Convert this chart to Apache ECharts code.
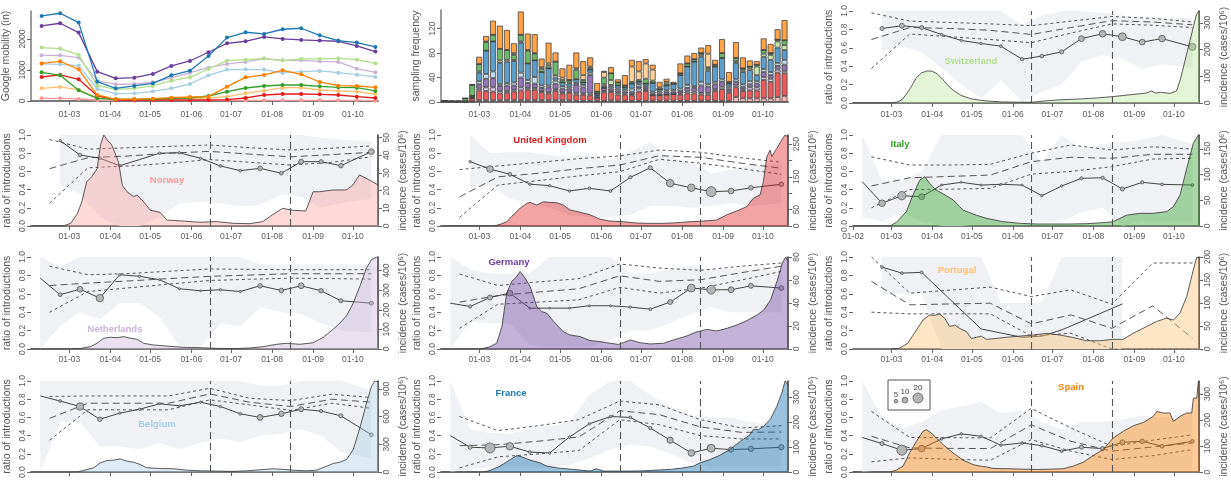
<!DOCTYPE html>
<html><head><meta charset="utf-8">
<script src="https://cdn.jsdelivr.net/npm/echarts@6/dist/echarts.min.js"></script>
<style>html,body{margin:0;padding:0;background:#fff}#c{width:1231px;height:481px}</style>
</head><body><div id="c"></div>
<script>
// ---------- axis ticks ----------
const monthTickDays = [29, 60, 90, 121, 151, 182, 213, 243];
const monthTickLabels = ['01-03','01-04','01-05','01-06','01-07','01-08','01-09','01-10'];
const firstTickDay = 0, firstTickLabel = '01-02';
const xMaxDay = 262;
const breakDays = [135, 196];

// ---------- Google mobility ----------
const mobDays = [8,22,36,50,64,78,92,106,120,134,148,162,176,190,204,218,232,246,260];
const mobFR = [2742,2828,2527,624,409,484,570,828,978,1452,2043,2215,2161,2312,2344,2118,1946,1882,1742];
const mobDE = [2419,2505,2204,946,731,753,871,1129,1290,1570,1860,1925,2065,2000,1968,1946,1925,1774,1591];
const mobCH = [1720,1688,1484,495,376,409,484,656,763,1032,1301,1333,1366,1301,1355,1355,1376,1333,1215];
const mobNL = [1473,1473,1398,656,538,548,602,742,914,1075,1194,1258,1366,1312,1312,1280,1258,1043,925];
const mobES = [1215,1280,1022,194,54,54,75,108,129,140,462,763,839,989,860,613,495,484,441];
const mobBE = [1194,1183,1140,387,237,247,312,409,548,828,1011,1022,1011,903,946,968,914,849,774];
const mobIT = [925,828,344,86,54,54,65,86,97,161,301,419,484,516,516,473,441,430,323];
const mobUK = [774,839,699,172,32,22,32,32,32,32,43,97,194,226,226,215,194,140,97];
const mobPT = [409,452,355,108,65,65,65,75,86,97,140,247,333,430,430,355,323,301,226];
const mobNO = [86,86,65,32,22,22,22,22,22,22,22,22,22,22,22,22,22,22,11];
const mobTicks = [0, 1000, 2000];

// ---------- sampling frequency (50 bins, stacked bottom -> top) ----------
const sampNO = [0,0,0,0,1,3,3,3,3,3,3,3,3,3,3,3,3,3,3,2,2,2,2,2,3,2,2,2,2,2,2,2,2,2,2,2,2,2,2,2,2,2,8,6,6,6,6,6,8,10];
const sampUK = [2,1,1,1,5,16,15,14,11,12,14,16,17,17,13,11,15,11,12,10,10,9,5,14,13,10,10,9,15,16,9,9,10,11,10,12,12,10,10,16,19,13,16,12,13,13,30,27,40,37];
const sampNL = [0,0,0,0,0,3,6,7,4,3,3,5,3,3,2,2,3,2,2,3,2,3,0,2,2,3,2,2,5,2,0,0,0,0,2,3,3,3,3,3,4,3,3,3,5,5,5,5,5,4];
const sampDE = [0,0,0,0,2,7,14,15,8,9,7,16,8,7,5,8,9,6,5,13,10,30,3,5,4,4,3,4,3,3,3,3,4,4,4,6,6,12,10,8,8,4,6,4,5,6,8,6,6,10];
const sampBE = [0,0,0,0,1,5,8,11,3,4,5,8,5,11,4,3,5,4,3,3,4,4,1,0,3,3,3,5,4,3,3,3,3,3,4,5,3,6,4,4,4,3,4,4,5,4,5,5,5,8];
const sampFR = [0,0,0,0,1,14,38,49,35,35,35,49,27,27,22,28,5,6,5,6,4,5,3,3,3,5,4,8,4,4,14,4,8,10,22,30,40,41,22,25,35,5,27,20,18,10,20,20,25,16];
const sampCH = [0,0,0,0,0,2,0,0,4,3,2,2,0,0,0,0,4,0,2,0,0,0,0,3,8,0,0,0,0,0,0,0,0,0,0,0,0,3,3,0,0,0,3,3,3,14,5,8,10,8];
const sampIT = [0,0,0,5,18,12,14,11,19,16,8,11,21,11,5,5,22,4,4,16,4,3,3,11,11,5,3,3,3,8,4,0,3,0,3,5,4,3,3,3,8,3,5,3,3,3,6,3,3,8];
const sampPT = [0,0,0,0,0,0,1,0,0,0,3,0,1,1,3,3,0,4,0,2,8,2,0,9,0,0,0,25,14,25,18,3,3,0,0,0,0,0,22,0,0,0,0,0,0,0,0,0,0,0];
const sampES = [0,0,0,0,1,12,9,23,38,33,16,38,27,31,14,34,15,15,25,26,23,15,14,2,10,5,17,11,17,7,8,9,5,3,16,13,10,9,14,8,23,16,26,18,10,6,19,15,17,33];
const sampTicks = [0, 40, 80, 120];

// ---------- country panels ----------
const dotDays = [7,22,37,52,67,82,97,112,128,143,158,173,189,204,219,234,257];
const midDays = [14,43,74,104,135,165,196,227,257];
const ratioTicks = [0, 0.2, 0.4, 0.6, 0.8, 1.0];

const ratioCH = [null,0.81,0.84,0.82,0.745,0.68,0.647,0.618,0.476,0.51,0.556,0.70,0.753,0.72,0.662,0.70,0.61];
const nCH     = [0,6,8,6,2,2,2,3,4,5,6,10,12,15,10,12,13];
const bandHiCH = [null,1,1,1,1,1,1,1,0.85,0.95,1,1,0.98,0.95,0.92,0.93,0.92];
const bandLoCH = [null,0.55,0.62,0.55,0.38,0.2,0.05,0.25,0.02,0.12,0.2,0.45,0.52,0.48,0.37,0.42,0.38];
const qHiCH  = [0.98,0.89,0.875,0.86,0.84,0.89,0.94,0.92,0.88];
const qMidCH = [0.69,0.82,0.81,0.79,0.745,0.82,0.895,0.88,0.85];
const qLoCH  = [0.375,0.75,0.72,0.69,0.655,0.76,0.86,0.845,0.82];
const incCH = [[0,0],[28,0],[33,3],[37,12],[40,30],[44,60],[48,95],[52,113],[56,120],[60,119],[64,108],[68,88],[72,65],[76,47],[82,28],[90,15],[100,8],[113,4],[126,3],[136,3],[146,8],[157,12],[172,15],[185,19],[197,24],[210,31],[222,37],[226,45],[229,37],[233,40],[240,36],[245,45],[248,90],[251,150],[255,230],[258,290],[260,330],[262,344]];
const incTicksCH = [0,100,200,300];

const ratioNO = [null,0.938,0.78,0.744,0.663,0.73,0.80,0.805,0.744,0.66,0.608,0.634,0.58,0.707,0.707,0.663,0.817];
const nNO     = [0,2,5,3,2,0,2,2,2,3,3,7,5,8,6,7,10];
const bandHiNO = [null,1,1,1,1,1,1,1,1,1,1,1,1,1,0.97,0.95,0.93];
const bandLoNO = [null,0.45,0.35,0.1,0,0,0.1,0.25,0.27,0.25,0.22,0.23,0.35,0.32,0.2,0.25,0.3];
const qHiNO  = [0.95,0.845,0.86,0.875,0.89,0.86,0.835,0.855,0.88];
const qMidNO = [0.63,0.75,0.77,0.8,0.82,0.79,0.76,0.785,0.81];
const qLoNO  = [0.25,0.64,0.66,0.69,0.73,0.7,0.67,0.7,0.76];
const incNO = [[0,0],[24,0],[30,1.5],[35,7],[38.5,14],[42,25],[46,28],[50,32.6],[52.5,46],[55,51.5],[57.5,48.7],[61,45.8],[66,36.4],[69,23],[72.5,19.4],[77.5,16.6],[80,17.5],[85,13.8],[90,9],[97.5,7.7],[102.5,3.4],[115,2.8],[127.5,2.1],[140,2.5],[153,1.5],[165,1.3],[175,2.5],[182,6.2],[190,10],[197.5,8.9],[207.5,8.5],[213,19.4],[218,19.4],[228,20.4],[238,20.4],[243,23.2],[248,28.9],[253,27],[258,25],[262,23.2]];
const incTicksNO = [0,10,20,30,40,50];

const ratioUK = [null,0.707,0.626,0.568,0.46,0.443,0.385,0.414,0.385,0.535,0.64,0.47,0.42,0.377,0.385,0.42,0.458];
const nUK     = [0,2,12,5,2,2,2,3,3,4,6,14,14,20,10,7,7];
const bandHiUK = [null,1,0.8,0.81,0.81,0.78,0.76,0.78,0.72,0.82,0.92,0.75,0.7,0.58,0.62,0.67,0.68];
const bandLoUK = [null,0.43,0.45,0.3,0.25,0.2,0.12,0.1,0.1,0.12,0.22,0.22,0.2,0.22,0.25,0.22,0.25];
const qHiUK  = [0.62,0.66,0.7,0.74,0.77,0.835,0.81,0.75,0.70];
const qMidUK = [0.32,0.54,0.58,0.63,0.67,0.773,0.755,0.69,0.634];
const qLoUK  = [0.095,0.45,0.5,0.55,0.597,0.733,0.69,0.63,0.568];
const incUK = [[0,0],[40,0],[44.6,5],[49.6,13],[54.6,34],[59.7,54],[64.7,69],[67.2,72],[72.3,64],[77.3,74],[82.3,72],[87.4,71],[92.4,64],[97.4,49],[105,42],[112.6,34],[120,21],[127.6,15],[137.7,13],[147.7,9],[157.8,8],[167.8,8],[177.9,10],[188,13],[198,15],[208,18],[215.7,34],[223.3,46],[230.8,59],[235.9,85],[240.9,95],[243.4,135],[246,212],[248.5,232],[249.7,212],[253.5,237],[257.3,263],[259.8,278],[262,273]];
const incTicksUK = [0,50,100,150,200,250];
const incLabelsUK = [0,50,150,250];

const ratioIT = [0.487,0.25,0.333,0.322,0.45,0.48,0.45,0.458,0.45,0.333,0.44,0.524,0.53,0.407,0.48,0.458,0.45];
const nIT     = [0,12,16,10,1,1,1,1,1,2,2,4,4,6,4,3,3];
const bandHiIT = [1,0.5,0.5,0.6,1,1,1,1,1,0.7,1,0.85,0.9,0.92,0.95,1,0.9];
const bandLoIT = [0.1,0.05,0.15,0.05,0,0,0.02,0.02,0.05,0.05,0.05,0.15,0.2,0,0.05,0.05,0.05];
const qHiIT  = [0.76,0.67,0.67,0.678,0.8,0.89,0.835,0.87,0.846];
const qMidIT = [0.44,0.53,0.545,0.56,0.707,0.755,0.744,0.788,0.788];
const qLoIT  = [0.2,0.4,0.405,0.414,0.57,0.6,0.652,0.736,0.744];
const incIT = [[0,0],[28,0],[32.8,7],[40.4,28],[45.4,60],[50.5,89],[54.3,96],[58,83],[63,70],[68,63],[75.7,51],[83.3,31],[93.4,21],[101,15],[113.6,8.4],[126.3,5.2],[139,3.9],[151.6,3.9],[164.2,3.9],[177,4.5],[192,7],[197,8.4],[207,21],[217,24.6],[227.4,24.6],[237.5,28],[242.6,37.6],[247.6,60],[252.7,112],[257.7,161],[261.5,177],[262,175]];
const incTicksIT = [0,50,100,150];

const ratioNL = [0.77,0.59,0.65,0.553,0.807,0.79,0.753,0.655,0.633,0.644,0.625,0.687,0.636,0.687,0.633,0.524,0.498];
const nNL     = [0,5,10,14,2,2,1,1,1,2,2,7,7,10,7,6,6];
const bandHiNL = [1,0.9,1,1,1,1,1,1,1,1,1,0.92,0.92,0.92,0.92,0.92,0.92];
const bandLoNL = [0,0.25,0.4,0.32,0.5,0.5,0.35,0.03,0.02,0.28,0.25,0.45,0.4,0.38,0.28,0.2,0.18];
const qHiNL  = [0.9,0.807,0.82,0.845,0.87,0.866,0.862,0.862,0.862];
const qMidNL = [0.69,0.716,0.74,0.765,0.79,0.804,0.818,0.818,0.818];
const qLoNL  = [0.4,0.625,0.665,0.705,0.745,0.758,0.77,0.765,0.76];
const incNL = [[0,0],[30,0],[37.3,3],[44.8,12],[49.8,29],[54.9,55],[60,60],[65,58],[70,63],[75,55],[80,50],[85,29],[92.6,20.5],[102.6,15],[115,8.5],[127.7,6.8],[140,3.4],[152.8,1.7],[165,5],[175,12],[185.5,24],[193,29],[203,24],[213,32],[220.7,60],[228.2,101],[233.2,132],[238.2,169],[243.3,234],[248.3,320],[253.3,414],[257,456],[261,470],[262,470]];
const incTicksNL = [0,100,200,300,400];

const ratioDE = [0.498,0.462,0.56,0.607,0.444,0.444,0.444,0.47,0.47,0.455,0.433,0.51,0.662,0.644,0.644,0.687,0.662];
const nDE     = [0,4,8,10,1,1,1,1,1,2,3,8,15,17,10,8,8];
const bandHiDE = [1,0.87,0.82,0.82,0.82,1,1,1,1,0.82,0.82,0.87,0.9,0.87,0.87,0.86,0.86];
const bandLoDE = [0,0.3,0.28,0.28,0.05,0.02,0.02,0.02,0.1,0.2,0.2,0.28,0.38,0.45,0.4,0.4,0.4];
const qHiDE  = [0.815,0.69,0.73,0.764,0.924,0.88,0.855,0.9,0.935];
const qMidDE = [0.51,0.58,0.62,0.655,0.796,0.735,0.753,0.83,0.9];
const qLoDE  = [0.225,0.487,0.51,0.535,0.67,0.607,0.662,0.75,0.844];
const incDE = [[0,0],[30,0],[37,2],[42,5],[46,19.5],[49.6,48.6],[53.4,58.8],[57.2,63],[59.7,67.5],[63.5,61.7],[67.3,54.4],[72.3,37],[76,32.6],[80,31],[85,24],[92.4,15],[97.4,12.2],[105,10.8],[112.6,7.3],[120,6.4],[127.7,5],[134,4],[137.7,5.5],[142.8,7.9],[150.3,5.5],[158,4.4],[168,5],[175.6,7.9],[185.6,11.3],[193.2,15],[200.8,17],[208.3,15.7],[216,18],[223.6,21],[231,24.7],[238.8,29.7],[243.8,34],[248.9,42.8],[254,60],[257.7,74.8],[260.3,80],[262,76]];
const incTicksDE = [0,20,40,60,80];

const ratioPT = [null,0.89,0.825,0.833,null,null,0.218,null,0.127,0.14,0.207,null,null,0.49,null,null,null];
const nPT     = [0,3,3,3,0,0,0,0,0,0,0,0,0,0,0,0,0];
const bandHiPT = [null,1,1,1,1,1,1,0.5,0.5,0.5,1,1,1,1,null,null,null];
const bandLoPT = [null,0.6,0.6,0.6,0,0,0,0,0,0,0,0,0,0,null,null,null];
const qHiPT  = [1.0,0.607,0.64,0.673,0.57,0.643,0.487,0.935,0.935];
const qMidPT = [0.735,0.48,0.49,0.498,0.273,0.371,0.225,0.47,0.116];
const qLoPT  = [0.4,0.382,0.382,0.382,0.142,0.171,0,0,0];
const incPT = [[29,0],[35,1.5],[41.3,12],[48,41],[53,63],[58,74],[61.8,73],[65.6,76],[69.4,67],[73.2,49],[77,52],[80.7,45],[85.8,38],[89.6,23],[93.4,25.5],[97.2,28],[101,21],[108.6,23],[116.2,25.5],[126.3,28],[136.4,30.5],[146.5,34],[156.6,30.5],[166.7,25],[176.8,18],[186.9,18],[197,21],[204.6,21],[212,34],[222.4,49],[230,60],[237.5,67],[242.6,63],[247.6,78],[252.7,114],[257.7,172],[260.3,200],[262,198]];
const incTicksPT = [0,50,100,150,200];

const ratioBE = [0.836,0.78,0.72,0.58,0.647,0.69,0.75,0.727,0.767,0.72,0.64,0.60,0.64,0.69,0.67,0.618,0.41];
const nBE     = [0,3,14,7,2,2,1,1,1,2,3,10,9,8,4,6,5];
const bandHiBE = [1,1,1,1,1,1,1,1,1,1,1,0.95,0.95,1,1,1,0.9];
const bandLoBE = [0,0.55,0.55,0.28,0.28,0.25,0.32,0.25,0.32,0.37,0.33,0.4,0.42,0.47,0.4,0.22,0.15];
const qHiBE  = [0.83,0.836,0.836,0.836,0.92,0.81,0.785,0.855,0.818];
const qMidBE = [0.59,0.756,0.756,0.756,0.858,0.767,0.72,0.8,0.767];
const qLoBE  = [0.35,0.684,0.684,0.684,0.793,0.738,0.676,0.756,0.7];
const incBE = [[0,0],[35,0],[39.8,18],[47.4,47],[52.4,100],[57.4,125],[62.4,129],[67.4,143],[72.4,118],[77.5,107],[82.5,82],[87.5,47],[97.6,39],[107.6,36],[117.6,21],[127.7,14],[140,11],[152.8,7],[163,14],[173,25],[183,36],[190.6,29],[198,21],[208,14],[215.7,21],[223.2,64],[228.2,93],[233.3,107],[238.2,136],[243.3,244],[248.3,476],[253.3,745],[257,924],[259.6,985],[262,978]];
const incTicksBE = [0,300,600,900];

const ratioFR = [0.4,0.273,0.265,0.284,0.22,0.21,0.385,0.53,0.61,0.6,0.484,0.35,0.21,0.262,0.247,0.255,0.273];
const nFR     = [0,6,20,14,3,2,2,2,2,3,4,11,12,15,9,9,9];
const bandHiFR = [1,0.47,0.43,0.42,0.48,0.5,0.55,0.85,1,1,0.85,0.72,0.62,0.6,0.6,0.55,0.5];
const bandLoFR = [0,0.03,0.05,0.05,0.05,0.05,0.08,0.15,0.25,0.3,0.28,0.2,0.1,0.05,0.05,0.05,0.05];
const qHiFR  = [0.61,0.455,0.51,0.575,0.78,0.738,0.575,0.484,0.51];
const qMidFR = [0.29,0.3,0.34,0.385,0.673,0.63,0.495,0.436,0.44];
const qLoFR  = [0.047,0.167,0.2,0.236,0.575,0.52,0.4,0.364,0.364];
const incFR = [[0,0],[32,0],[37,6.6],[44.6,24],[52.2,50],[57.2,66],[61,61],[64.7,53],[69.8,44],[74.8,37],[79.8,24],[87.4,17],[95,13],[105,8],[112.6,4],[117.6,13],[122.7,4],[132.7,4],[142.8,4],[152.9,5],[163,8],[173,10.6],[183,17],[190.6,24],[195.6,37],[203,50],[210.7,68],[218,90],[226,123],[233.4,150],[235.9,172],[239.7,170],[243.4,183],[248.5,210],[253.5,263],[257.3,316],[259.8,365],[262,349]];
const incTicksFR = [0,100,200,300];

const ratioES = [0.38,0.313,0.24,0.258,0.364,0.42,0.393,0.295,0.32,0.29,0.23,0.273,0.258,0.327,0.338,0.284,0.338];
const nES     = [0,6,20,12,2,2,2,2,2,3,3,6,6,8,7,5,5];
const bandHiES = [1,0.6,0.48,0.55,0.68,0.72,0.77,0.65,0.68,0.55,0.47,0.55,0.55,0.58,0.62,0.6,0.65];
const bandLoES = [0,0.02,0.02,0.02,0.02,0.02,0.02,0.02,0.02,0.02,0.02,0.02,0.02,0.02,0.02,0.02,0.02];
const qHiES  = [0.665,0.38,0.378,0.375,0.7,0.484,0.284,0.35,0.41];
const qMidES = [0.393,0.265,0.26,0.258,0.52,0.338,0.23,0.276,0.32];
const qLoES  = [0.113,0.156,0.14,0.13,0.356,0.23,0.138,0.18,0.247];
const incES = [[0,0],[28,0],[32.8,7.6],[37.9,23],[42.9,74],[48,118],[53,157],[55.6,163],[59.4,150],[63.1,131],[68.2,106],[75.7,74],[83.3,46],[90.9,29],[96,23],[101,20],[106,14],[116,13],[126.3,11.5],[139,10],[151.6,11.5],[159.2,13],[166.8,23],[174.4,38],[182,64],[189.5,87],[197,131],[204.7,157],[212.3,178],[220,191],[227.4,214],[230,233],[235,227],[240,227],[242.6,195],[247.6,214],[252.7,227],[256.5,227],[257.7,284],[260.3,284],[261.5,348],[262,348]];
const incTicksES = [0,100,200,300];

const legendSizes = [5, 10, 20];

// ---------- styling / layout ----------
const FONT = 'Liberation Sans, Arial, sans-serif';
const C = {BE:'#a6cee3',FR:'#1f78b4',CH:'#b2df8a',IT:'#33a02c',NO:'#fb9a99',UK:'#e31a1c',PT:'#fdbf6f',ES:'#ff7f00',NL:'#cab2d6',DE:'#6a3d9a'};
function rgba(hex, a){const n=parseInt(hex.slice(1),16);return `rgba(${n>>16},${(n>>8)&255},${n&255},${a})`;}
function dotSize(n){ return n > 0 ? 1.6 + 0.42 * n : 0; }
const colLeft = [31, 441, 853];
const PW = 347;
const rowTop = [11, 135, 257, 381];
const rowH = [92, 91, 92, 92];
const rowOff = [4, 3, 3, 3];

const allTickDays = [firstTickDay].concat(monthTickDays);
const allTickLabels = [firstTickLabel].concat(monthTickLabels);
function fmtMonth(v){ const i = allTickDays.indexOf(v); return i >= 0 ? allTickLabels[i] : ''; }

const grid=[], xAxis=[], yAxis=[], series=[], graphic=[];
const lab = {color:'#5a5a5a', fontSize:8.5, fontFamily:FONT};
const nameStyle = {color:'#555', fontSize:10.5, fontFamily:FONT};

function addX(gi, offset, ticks, showLabels){
  xAxis.push({type:'value', gridIndex:gi, min:0, max:xMaxDay, offset,
    axisLine:{show:true, lineStyle:{color:'#7a7a7a', width:2}},
    axisTick:{show:true, customValues:ticks, length:4, lineStyle:{color:'#666', width:1}},
    axisLabel:Object.assign({show:showLabels, customValues:ticks, formatter:fmtMonth, margin:3}, lab),
    splitLine:{show:false}});
  return xAxis.length-1;
}

// ---- panel: mobility ----
{
  grid.push({left:colLeft[0], top:11, width:PW, height:90});
  const gi = grid.length-1;
  const xi = addX(gi, 6, monthTickDays, true);
  yAxis.push({type:'value', gridIndex:gi, min:0, max:2900,
    axisLine:{show:true, lineStyle:{color:'#7a7a7a', width:1.5}},
    axisTick:{show:true, customValues:mobTicks, length:4, lineStyle:{color:'#666'}},
    axisLabel:Object.assign({customValues:mobTicks, rotate:90, margin:4, formatter:v=>String(v)}, lab),
    splitLine:{show:false},
    name:'Google mobility (in)', nameLocation:'middle', nameGap:19, nameRotate:90, nameTextStyle:nameStyle});
  const yi = yAxis.length-1;
  const mob = [['NO',mobNO],['PT',mobPT],['UK',mobUK],['IT',mobIT],['BE',mobBE],['ES',mobES],['NL',mobNL],['CH',mobCH],['DE',mobDE],['FR',mobFR]];
  mob.forEach(([k,arr],j)=>{
    series.push({type:'line', xAxisIndex:xi, yAxisIndex:yi, z:2+j,
      data: mobDays.map((d,i)=>[d,arr[i]]), symbol:'circle', symbolSize:4, showAllSymbol:true,
      itemStyle:{color:C[k]}, lineStyle:{color:C[k], width:1.3}});
  });
}

// ---- panel: sampling frequency ----
{
  grid.push({left:colLeft[1], top:10, width:PW, height:92});
  const gi = grid.length-1;
  const xi = addX(gi, 5, monthTickDays, true);
  xAxis.push({type:'category', gridIndex:gi, show:false, data: sampUK.map((_,i)=>i)});
  const xc = xAxis.length-1;
  yAxis.push({type:'value', gridIndex:gi, min:0, max:150.5,
    axisLine:{show:true, lineStyle:{color:'#7a7a7a', width:1.5}},
    axisTick:{show:true, customValues:sampTicks, length:4, lineStyle:{color:'#666'}},
    axisLabel:Object.assign({customValues:sampTicks, rotate:90, margin:4}, lab),
    splitLine:{show:false},
    name:'sampling frequency', nameLocation:'middle', nameGap:19, nameRotate:90, nameTextStyle:nameStyle});
  const yi = yAxis.length-1;
  const st = [['NO',sampNO],['UK',sampUK],['NL',sampNL],['DE',sampDE],['BE',sampBE],['FR',sampFR],['CH',sampCH],['IT',sampIT],['PT',sampPT],['ES',sampES]];
  st.forEach(([k,arr])=>{
    series.push({type:'bar', xAxisIndex:xc, yAxisIndex:yi, stack:'samp', data:arr,
      barCategoryGap:'14%',
      itemStyle:{color:rgba(C[k],0.72), borderColor:'#444', borderWidth:0.8}});
  });
}

// ---- country panels ----
const countries = [
 {name:'Switzerland', k:'CH', c:2, r:0, ratio:ratioCH, n:nCH, hi:bandHiCH, lo:bandLoCH, qHi:qHiCH, qMid:qMidCH, qLo:qLoCH, inc:incCH, max:344, ticks:incTicksCH, labels:incTicksCH, a:0.35, pos:[971,61]},
 {name:'Norway', k:'NO', c:0, r:1, ratio:ratioNO, n:nNO, hi:bandHiNO, lo:bandLoNO, qHi:qHiNO, qMid:qMidNO, qLo:qLoNO, inc:incNO, max:51.5, ticks:incTicksNO, labels:incTicksNO, a:0.38, pos:[167,180]},
 {name:'United Kingdom', k:'UK', c:1, r:1, ratio:ratioUK, n:nUK, hi:bandHiUK, lo:bandLoUK, qHi:qHiUK, qMid:qMidUK, qLo:qLoUK, inc:incUK, max:278, ticks:incTicksUK, labels:incLabelsUK, a:0.4, pos:[550,140]},
 {name:'Italy', k:'IT', c:2, r:1, ratio:ratioIT, n:nIT, hi:bandHiIT, lo:bandLoIT, qHi:qHiIT, qMid:qMidIT, qLo:qLoIT, inc:incIT, max:177, ticks:incTicksIT, labels:incTicksIT, a:0.42, pos:[900,144], first:true},
 {name:'Netherlands', k:'NL', c:0, r:2, ratio:ratioNL, n:nNL, hi:bandHiNL, lo:bandLoNL, qHi:qHiNL, qMid:qMidNL, qLo:qLoNL, inc:incNL, max:470, ticks:incTicksNL, labels:incTicksNL, a:0.4, pos:[115,329]},
 {name:'Germany', k:'DE', c:1, r:2, ratio:ratioDE, n:nDE, hi:bandHiDE, lo:bandLoDE, qHi:qHiDE, qMid:qMidDE, qLo:qLoDE, inc:incDE, max:80, ticks:incTicksDE, labels:incTicksDE, a:0.4, pos:[509,262]},
 {name:'Portugal', k:'PT', c:2, r:2, ratio:ratioPT, n:nPT, hi:bandHiPT, lo:bandLoPT, qHi:qHiPT, qMid:qMidPT, qLo:qLoPT, inc:incPT, max:200, ticks:incTicksPT, labels:incTicksPT, a:0.4, pos:[957,270]},
 {name:'Belgium', k:'BE', c:0, r:3, ratio:ratioBE, n:nBE, hi:bandHiBE, lo:bandLoBE, qHi:qHiBE, qMid:qMidBE, qLo:qLoBE, inc:incBE, max:985, ticks:incTicksBE, labels:incTicksBE, a:0.38, pos:[157,424], noLabels:true},
 {name:'France', k:'FR', c:1, r:3, ratio:ratioFR, n:nFR, hi:bandHiFR, lo:bandLoFR, qHi:qHiFR, qMid:qMidFR, qLo:qLoFR, inc:incFR, max:365, ticks:incTicksFR, labels:incTicksFR, a:0.45, pos:[511,393], noLabels:true},
 {name:'Spain', k:'ES', c:2, r:3, ratio:ratioES, n:nES, hi:bandHiES, lo:bandLoES, qHi:qHiES, qMid:qMidES, qLo:qLoES, inc:incES, max:350, ticks:incTicksES, labels:incTicksES, a:0.4, pos:[1071,387], noLabels:true}
];

countries.forEach(ct=>{
  grid.push({left:colLeft[ct.c], top:rowTop[ct.r], width:PW, height:rowH[ct.r]});
  const gi = grid.length-1;
  const ticks = ct.first ? allTickDays : monthTickDays;
  const xi = addX(gi, rowOff[ct.r], ticks, !ct.noLabels);
  yAxis.push({type:'value', gridIndex:gi, min:0, max:1, position:'left',
    axisLine:{show:false},
    axisTick:{show:true, customValues:ratioTicks, length:4, lineStyle:{color:'#666'}},
    axisLabel:Object.assign({customValues:ratioTicks, rotate:90, margin:4, formatter:v=>v.toFixed(1)}, lab),
    splitLine:{show:false},
    name:'ratio of introductions', nameLocation:'middle', nameGap:18, nameRotate:90, nameTextStyle:nameStyle});
  const yl = yAxis.length-1;
  yAxis.push({type:'value', gridIndex:gi, min:0, max:ct.max, position:'right',
    axisLine:{show:true, lineStyle:{color:'#333', width:1.5}},
    axisTick:{show:true, customValues:ct.ticks, length:4, lineStyle:{color:'#666'}},
    axisLabel:Object.assign({customValues:ct.labels, rotate:90, margin:4}, lab),
    splitLine:{show:false},
    name:'incidence (cases/10\u2076)', nameLocation:'middle', nameGap:20, nameRotate:90, nameTextStyle:nameStyle});
  const yr = yAxis.length-1;

  // grey band
  const band = dotDays.map((d,i)=>[d, ct.lo[i], ct.hi[i]]).filter(p=>p[2]!=null);
  series.push({type:'custom', xAxisIndex:xi, yAxisIndex:yl, z:1, silent:true, data:band,
    renderItem:(params, api)=>{
      if (params.dataIndex !== 0) return null;
      const top = band.map(p=>api.coord([p[0],p[2]]));
      const bot = band.map(p=>api.coord([p[0],p[1]])).reverse();
      return {type:'polygon', shape:{points:top.concat(bot)}, style:{fill:'#eff1f4'}};
    }});
  // expectation lines
  [[ct.qHi,[3,3]],[ct.qMid,[7,4]],[ct.qLo,[3,3]]].forEach(([q,dash],j)=>{
    const s = {type:'line', xAxisIndex:xi, yAxisIndex:yl, z:2, symbol:'none', silent:true,
      data: midDays.map((d,i)=>[d,q[i]]),
      lineStyle:{color:'#444', width:0.9, type:dash}};
    if (j===0) s.markLine = {silent:true, symbol:['none','none'], label:{show:false},
      lineStyle:{color:'#555', width:1.1, type:[7,4]}, data: breakDays.map(d=>({xAxis:d}))};
    series.push(s);
  });
  // observed ratio
  series.push({type:'line', xAxisIndex:xi, yAxisIndex:yl, z:3, silent:true,
    data: dotDays.map((d,i)=>[d, ct.ratio[i], ct.n[i]]).filter(p=>p[1]!=null),
    symbol:'circle', showAllSymbol:true, symbolSize:(v)=>dotSize(v[2]),
    itemStyle:{color:'#b5b5b5', borderColor:'#555', borderWidth:0.8},
    lineStyle:{color:'#444', width:1}});
  // incidence
  series.push({type:'line', xAxisIndex:xi, yAxisIndex:yr, z:4, silent:true,
    data: ct.inc, symbol:'none',
    lineStyle:{color:'#333', width:0.8},
    areaStyle:{color:rgba(C[ct.k], ct.a), opacity:1}});
  graphic.push({type:'text', x:ct.pos[0], y:ct.pos[1], z:50,
    style:{text:ct.name, fill:C[ct.k], fontSize:9.5, fontWeight:'bold', fontFamily:FONT, align:'center', verticalAlign:'middle'}});
});

// legend of dot sizes (Spain panel)
graphic.push({type:'rect', z:60, shape:{x:888, y:380, width:42, height:30}, style:{fill:'#fff', stroke:'#555', lineWidth:1}});
const legX = [896, 905, 918];
legendSizes.forEach((s,i)=>{
  const d = dotSize(s);
  graphic.push({type:'circle', z:61, shape:{cx:legX[i], cy:403 - d/2, r:d/2}, style:{fill:'#b5b5b5', stroke:'#555', lineWidth:0.8}});
  graphic.push({type:'text', z:61, x:legX[i], y:403 - d - 5, style:{text:String(s), fill:'#444', fontSize:8, fontFamily:FONT, align:'center', verticalAlign:'middle'}});
});

const chart = echarts.init(document.getElementById('c'), null, {renderer:'canvas'});
chart.setOption({animation:false, backgroundColor:'#fff', textStyle:{fontFamily:FONT}, grid, xAxis, yAxis, series, graphic});
</script></body></html>
